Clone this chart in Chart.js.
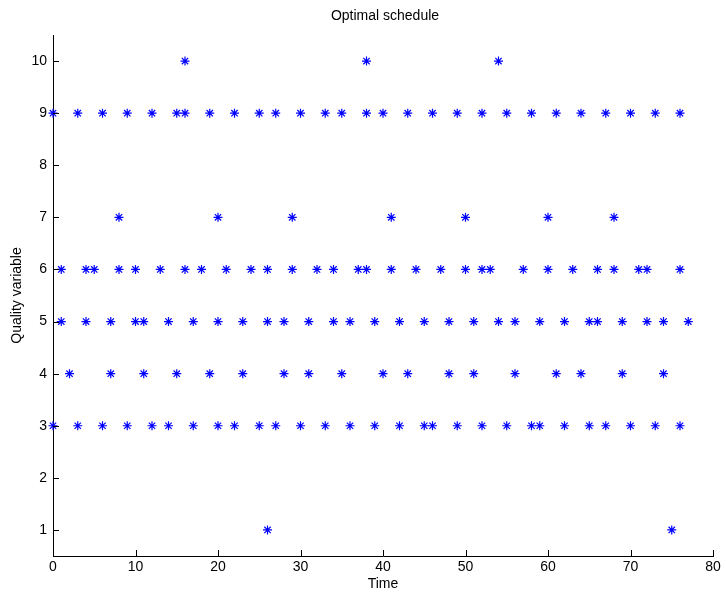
<!DOCTYPE html>
<html>
<head>
<meta charset="utf-8">
<script src="https://cdn.jsdelivr.net/npm/chart.js@4.4.1/dist/chart.umd.min.js"></script>
<style>
  html, body { margin: 0; padding: 0; background: #fff; }
  #wrap { width: 726px; height: 593px; }
</style>
</head>
<body>
<div id="wrap"><canvas id="sched"></canvas></div>
<script>
// times at which each quality level is scheduled
const q10 = [16, 38, 54];
const q9 = [0, 3, 6, 9, 12, 15, 16, 19, 22, 25, 27, 30, 33, 35, 38, 40, 43, 46, 49, 52, 55, 58, 61, 64, 67, 70, 73, 76];
const q7 = [8, 20, 29, 41, 50, 60, 68];
const q6 = [1, 4, 5, 8, 10, 13, 16, 18, 21, 24, 26, 29, 32, 34, 37, 38, 41, 44, 47, 50, 52, 53, 57, 60, 63, 66, 68, 71, 72, 76];
const q5 = [1, 4, 7, 10, 11, 14, 17, 20, 23, 26, 28, 31, 34, 36, 39, 42, 45, 48, 51, 54, 56, 59, 62, 65, 66, 69, 72, 74, 77];
const q4 = [2, 7, 11, 15, 19, 23, 28, 31, 35, 40, 43, 48, 51, 56, 61, 64, 69, 74];
const q3 = [0, 3, 6, 9, 12, 14, 17, 20, 22, 25, 27, 30, 33, 36, 39, 42, 45, 46, 49, 52, 55, 58, 59, 62, 65, 67, 70, 73, 76];
const q1 = [26, 75];

const xTicks = [0, 10, 20, 30, 40, 50, 60, 70, 80];
const yTicks = [1, 2, 3, 4, 5, 6, 7, 8, 9, 10];

const levels = [[10, q10], [9, q9], [7, q7], [6, q6], [5, q5], [4, q4], [3, q3], [1, q1]];
let pts = [];
for (const [lvl, times] of levels) {
  for (const t of times) pts.push({ x: t, y: lvl });
}

const FONT = "'Liberation Sans', Arial, Helvetica, sans-serif";

// MATLAB style: ticks drawn inward, title over the plot area
const matlabBits = {
  id: 'matlabBits',
  afterDraw(chart) {
    const c = chart.ctx, a = chart.chartArea;
    const sx = chart.scales.x, sy = chart.scales.y;
    c.save();
    c.strokeStyle = '#000';
    c.lineWidth = 1;
    c.beginPath();
    for (const v of xTicks) {
      const px = Math.round(sx.getPixelForValue(v)) + 0.5;
      c.moveTo(px, a.bottom);
      c.lineTo(px, a.bottom - 6);
    }
    for (const v of yTicks) {
      const py = Math.round(sy.getPixelForValue(v)) + 0.5;
      c.moveTo(a.left, py);
      c.lineTo(a.left + 6, py);
    }
    c.stroke();
    c.fillStyle = '#000';
    c.font = '14px ' + FONT;
    c.textAlign = 'center';
    c.textBaseline = 'alphabetic';
    c.fillText('Optimal schedule', (a.left + a.right) / 2 + 2, 20);
    c.restore();
  }
};

new Chart(document.getElementById('sched'), {
  type: 'scatter',
  data: {
    datasets: [{
      data: pts,
      pointStyle: 'star',
      pointRadius: 4.5,
      pointHoverRadius: 4.5,
      borderColor: '#0000ff',
      backgroundColor: '#0000ff',
      borderWidth: 1.2,
      clip: false
    }]
  },
  options: {
    responsive: true,
    maintainAspectRatio: false,
    animation: false,
    layout: { padding: { top: 35, right: 13, left: 0, bottom: 0 } },
    plugins: {
      legend: { display: false },
      tooltip: { enabled: false },
      title: { display: false }
    },
    scales: {
      x: {
        type: 'linear',
        min: 0, max: 80,
        afterBuildTicks: s => { s.ticks = xTicks.map(v => ({ value: v })); },
        afterFit: s => { s.height = 37; },
        grid: { display: false, drawTicks: false },
        border: { display: true, color: '#000', width: 1 },
        ticks: { color: '#000', padding: 3, font: { family: FONT, size: 14 }, maxRotation: 0 },
        title: { display: true, text: 'Time', color: '#000', padding: 0, font: { family: FONT, size: 14 } }
      },
      y: {
        type: 'linear',
        min: 0.5, max: 10.5,
        afterBuildTicks: s => { s.ticks = yTicks.map(v => ({ value: v })); },
        afterFit: s => { s.width = 53; },
        grid: { display: false, drawTicks: false },
        border: { display: true, color: '#000', width: 1 },
        ticks: { color: '#000', padding: 6, font: { family: FONT, size: 14 } },
        title: { display: true, text: 'Quality variable', color: '#000', padding: { top: 9, bottom: 0 }, font: { family: FONT, size: 14 } }
      }
    }
  },
  plugins: [matlabBits]
});
</script>
</body>
</html>
